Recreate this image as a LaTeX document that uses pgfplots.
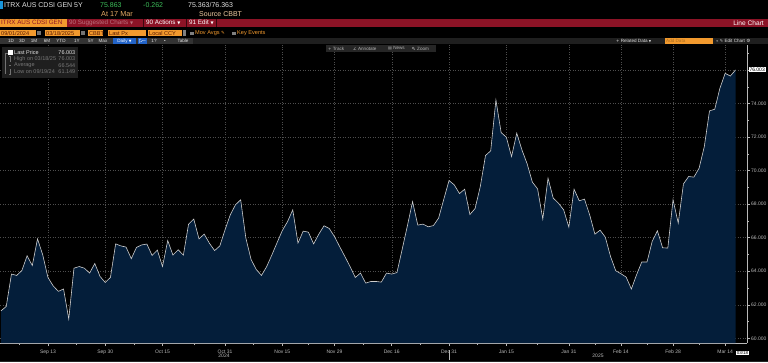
\documentclass[border=0pt]{standalone}
\usepackage{pgfplots}
\usepackage{pgfplotstable}
\pgfplotsset{compat=1.18}
\usepackage{fontspec}
\setmainfont{Liberation Sans}
\newfontfamily\sym{DejaVu Sans}
\newcommand\fs[1]{\fontsize{#1}{#1}\selectfont}
\definecolor{navy}{RGB}{4,30,58}
\definecolor{gridc}{RGB}{78,78,78}
\definecolor{linec}{RGB}{205,205,205}
\definecolor{redbar}{RGB}{140,19,38}
\definecolor{amber}{RGB}{242,154,46}
\definecolor{amtext}{RGB}{90,26,0}
\definecolor{bgreen}{RGB}{60,190,90}
\definecolor{tan}{RGB}{230,170,100}
\definecolor{ltxt}{RGB}{225,225,225}
\definecolor{dtxt}{RGB}{120,120,120}
\definecolor{tickc}{RGB}{185,185,185}
\definecolor{bblue}{RGB}{35,100,200}
\pgfplotstableread{
x y
0 61.64
1 61.90
2 63.83
3 63.75
4 64.04
5 64.92
6 64.34
7 65.93
8 64.98
9 63.63
10 63.13
11 62.80
12 62.94
13 61.15
14 64.18
15 64.28
16 64.18
17 63.89
18 64.46
19 63.69
20 63.33
21 63.63
22 65.63
23 65.51
24 65.44
25 64.75
26 65.42
27 65.57
28 65.62
29 64.94
30 65.26
31 64.28
32 65.83
33 64.96
34 65.28
35 64.96
36 66.81
37 67.11
38 65.93
39 66.21
40 65.67
41 65.23
42 65.51
43 66.47
44 67.36
45 67.96
46 68.26
47 65.97
48 64.70
49 64.10
50 63.75
51 64.28
52 64.98
53 65.71
54 66.43
55 66.96
56 67.66
57 65.68
58 66.39
59 66.33
60 65.63
61 66.21
62 66.71
63 66.55
64 66.07
65 65.47
66 64.88
67 64.28
68 63.63
69 63.89
70 63.29
71 63.39
72 63.39
73 63.35
74 63.89
75 63.83
76 63.92
77 65.30
78 66.70
79 68.15
80 66.75
81 66.81
82 66.65
83 66.72
84 67.17
85 68.30
86 69.41
87 69.15
88 68.63
89 68.89
90 67.38
91 67.74
92 69.05
93 70.90
94 71.18
95 74.21
96 72.27
97 71.99
98 70.84
99 72.23
100 71.23
101 70.40
102 69.31
103 68.91
104 67.11
105 69.55
106 68.36
107 68.06
108 67.66
109 66.63
110 68.89
111 68.20
112 68.30
113 67.36
114 66.21
115 66.45
116 66.03
117 64.88
118 64.03
119 63.85
120 63.65
121 62.94
122 63.79
123 64.55
124 64.55
125 65.78
126 66.41
127 65.40
128 65.38
129 68.26
130 66.87
131 69.21
132 69.65
133 69.61
134 70.14
135 71.43
136 73.56
137 73.66
138 74.91
139 75.80
140 75.64
141 76.003
}\cds
\begin{document}
\begin{tikzpicture}[x=1pt,y=1pt]
\useasboundingbox (0,0) rectangle (768,362);
\fill[black] (0,0) rectangle (768,362);
\begin{axis}[
  at={(0pt,19pt)}, anchor=south west, scale only axis,
  width=747pt, height=298pt,
  xmin=-0.2, xmax=143.2, ymin=59.72, ymax=77.49,
  axis x line*=bottom, axis y line*=right,
  axis line style={draw=tickc, line width=0.5pt},
  tick style={draw=tickc, line width=0.5pt},
  tick align=outside, major tick length=3pt, minor tick length=2pt,
  xtick={9,20,31,43,54,64,75,86,97,109,119,129,139},
  xticklabels={Sep 13,Sep 30,Oct 15,Oct 31,Nov 15,Nov 29,Dec 16,Dec 31,Jan 15,Jan 31,Feb 14,Feb 28,Mar 14},
  minor xtick={3.5,14.5,25.5,37,48.5,59,69.5,80.5,91.5,103,114,124,134},
  ytick={60,62,...,76},
  yticklabels={60.000,62.000,64.000,66.000,68.000,70.000,72.000,74.000,{}},
  minor ytick={61,63,...,77},
  grid=major,
  major grid style={draw=gridc, line width=0.4pt, dash pattern=on 1pt off 1.5pt},
  xticklabel style={font=\fs{5}, text=tickc, inner sep=0pt, anchor=base, yshift=-7pt},
  yticklabel style={font=\fs{5}, text=tickc, inner sep=0pt, anchor=west, xshift=1pt},
]
\addplot[draw=none, fill=navy] table[x=x,y=y]{\cds} \closedcycle;
\addplot[draw=linec, line width=0.6pt] table[x=x,y=y]{\cds};
\end{axis}
% bottom extras
\node[inner sep=0, text=tickc] at (224,6.5) {\fs{5}2024};
\node[inner sep=0, text=tickc] at (598,6.5) {\fs{5}2025};
\draw[tickc, line width=0.4pt] (449.5,12) -- (449.5,2);
\node[fill=white, inner sep=0.6pt, text=black, anchor=west] at (736,9) {\fs{4.5}03/18};
\fill[black!85!white] (0,0) rectangle (768,1.5);
% last price label
\node[fill=white, inner sep=0.8pt, text=black, anchor=west] at (748.5,292.5) {\fs{5}76.003};
% ---------- header ----------
\fill[black] (0,317) rectangle (768,362);
\fill[bblue!70!cyan] (0,353) rectangle (2.5,360.5);
\node[anchor=west, inner sep=0, text=ltxt] at (4,357) {\fs{7}ITRX AUS CDSI GEN 5Y};
\node[anchor=west, inner sep=0, text=bgreen] at (100,357) {\fs{7}75.863};
\node[anchor=west, inner sep=0, text=bgreen] at (143,357) {\fs{7}-0.262};
\node[anchor=west, inner sep=0, text=ltxt] at (188,357) {\fs{7}75.363/76.363};
\node[anchor=west, inner sep=0, text=tan] at (101,347.5) {\fs{7.3}At 17 Mar};
\node[anchor=west, inner sep=0, text=tan!60!white] at (199,347.5) {\fs{7}Source CBBT};
% red bar
\fill[redbar] (0,335) rectangle (768,343.3);
\fill[amber] (0,335) rectangle (67,343.3);
\node[anchor=west, inner sep=0, text=redbar] at (1,339.2) {\fs{6.3}ITRX AUS CDSI GEN};
\node[anchor=west, inner sep=0, text=redbar!60!white] at (69,339.2) {\fs{6.3}90 Suggested Charts {\sym\fs{4}▼}};
\draw[black!60!redbar] (143.5,335) -- (143.5,343.3) (186,335) -- (186,343.3) (216,335) -- (216,343.3);
\node[anchor=west, inner sep=0, text=white] at (146,339.2) {\fs{6.3}90 Actions {\sym\fs{4}▼}};
\node[anchor=west, inner sep=0, text=white] at (189,339.2) {\fs{6.3}91 Edit {\sym\fs{4}▼}};
\node[anchor=east, inner sep=0, text=white] at (764,339.2) {\fs{6.6}Line Chart};
% input row
\foreach \a/\b/\t in {0/36/09\slash 01\slash 2024,45/80/03\slash 18\slash 2025,88/103/CBBT,108/146/Last Px,148/182/Local CCY}{
  \fill[amber] (\a,325.5) rectangle (\b,331.5);
  \node[anchor=west, inner sep=0, text=amtext] at (\a+1,328.5) {\fs{5.6}\t};
}
\fill[black!55] (37,326.5) rectangle (40.5,330.5);
\fill[black!55] (81,326.5) rectangle (84.5,330.5);
\fill[black!50] (182.5,325.5) rectangle (186,331.5);
\fill[black!50] (190,326.7) rectangle (193.5,330.2);
\node[anchor=west, inner sep=0, text=amber] at (195,328.5) {\fs{5.6}Mov Avgs {\sym\fs{4.5}✎}};
\fill[black!50] (232,326.7) rectangle (235.5,330.2);
\node[anchor=west, inner sep=0, text=amber] at (237,328.5) {\fs{5.6}Key Events};
% toolbar row
\fill[black!88!white] (0,317.7) rectangle (768,324.3);
\fill[black!80!white] (0,317.7) rectangle (193,324.3);
\foreach \c/\t in {11/1D,22/3D,34/1M,47/6M,61/YTD,77/1Y,91/5Y,103/Max,154/1?,165/{\textbullet},183/Table}{
  \node[inner sep=0, text=ltxt] at (\c,321) {\fs{4.6}\t};
}
\fill[bblue] (113,318.2) rectangle (136,323.8);
\node[inner sep=0, text=white] at (124.5,321) {\fs{4.6}Daily {\sym\fs{3.5}▼}};
\fill[bblue] (138,318.2) rectangle (147,323.8);
\draw[white, line width=0.4pt] (139.5,319.2) -- (139.5,322.8) -- (141,322.8) (140.5,320) -- (142.5,321.5) -- (145.5,321.5);
\node[anchor=west, inner sep=0, text=ltxt] at (616,321) {\fs{4.6}{\sym\fs{4}+} Related Data {\sym\fs{3}▼}};
\fill[amber] (665,318.2) rectangle (713,323.8);
\node[anchor=west, inner sep=0, text=amber!70!black] at (666,321) {\fs{4.6}Add Data};
\node[anchor=west, inner sep=0, text=ltxt] at (716,321) {\fs{4.6}{\sym\fs{4}«} {\sym\fs{4}✎} Edit Chart {\sym\fs{4.5}⚙}};
% track row
\fill[black!85!white] (326,310) rectangle (436,317);
\node[anchor=west, inner sep=0, text=ltxt!80!black] at (328,313.5) {\fs{4.6}{\sym\fs{4}+} Track};
\node[anchor=west, inner sep=0, text=ltxt!80!black] at (353,313.5) {\fs{4.6}{\sym\fs{4}∠} Annotate};
\node[anchor=west, inner sep=0, text=ltxt!80!black] at (388,313.5) {\fs{4.6}{\sym\fs{4}▤} News};
\draw[ltxt!70!black, line width=0.35pt] (413.2,313.9) circle (1.1) (414,313.1) -- (415,312.1);
\node[anchor=west, inner sep=0, text=ltxt!80!black] at (417,313.5) {\fs{4.6}Zoom};
% legend box
\fill[black!88!white] (2,284) rectangle (78,315);
\fill[white] (8,307) rectangle (12.5,311.5);
\draw[black!55, line width=0.3pt] (5,309.3) -- (5,288) (5,309.3) -- (7.5,309.3);
\draw[black!55, line width=0.3pt] (9,306) -- (11,306) (10,306) -- (10,300) (9,296.5) -- (11,296.5) (10,293) -- (10,288) (9,288) -- (11,288);
\node[anchor=west, inner sep=0, text=ltxt] at (14,309.3) {\fs{5.5}Last Price};
\node[anchor=east, inner sep=0, text=ltxt] at (75.5,309.3) {\fs{5.5}76.003};
\node[anchor=west, inner sep=0, text=dtxt] at (14,303) {\fs{5.5}High on 03/18/25};
\node[anchor=east, inner sep=0, text=dtxt] at (75.5,303) {\fs{5.5}76.003};
\node[anchor=west, inner sep=0, text=dtxt] at (14,296.5) {\fs{5.5}Average};
\node[anchor=east, inner sep=0, text=dtxt] at (75.5,296.5) {\fs{5.5}66.544};
\node[anchor=west, inner sep=0, text=dtxt] at (14,290) {\fs{5.5}Low on 09/19/24};
\node[anchor=east, inner sep=0, text=dtxt] at (75.5,290) {\fs{5.5}61.149};
\end{tikzpicture}
\end{document}
